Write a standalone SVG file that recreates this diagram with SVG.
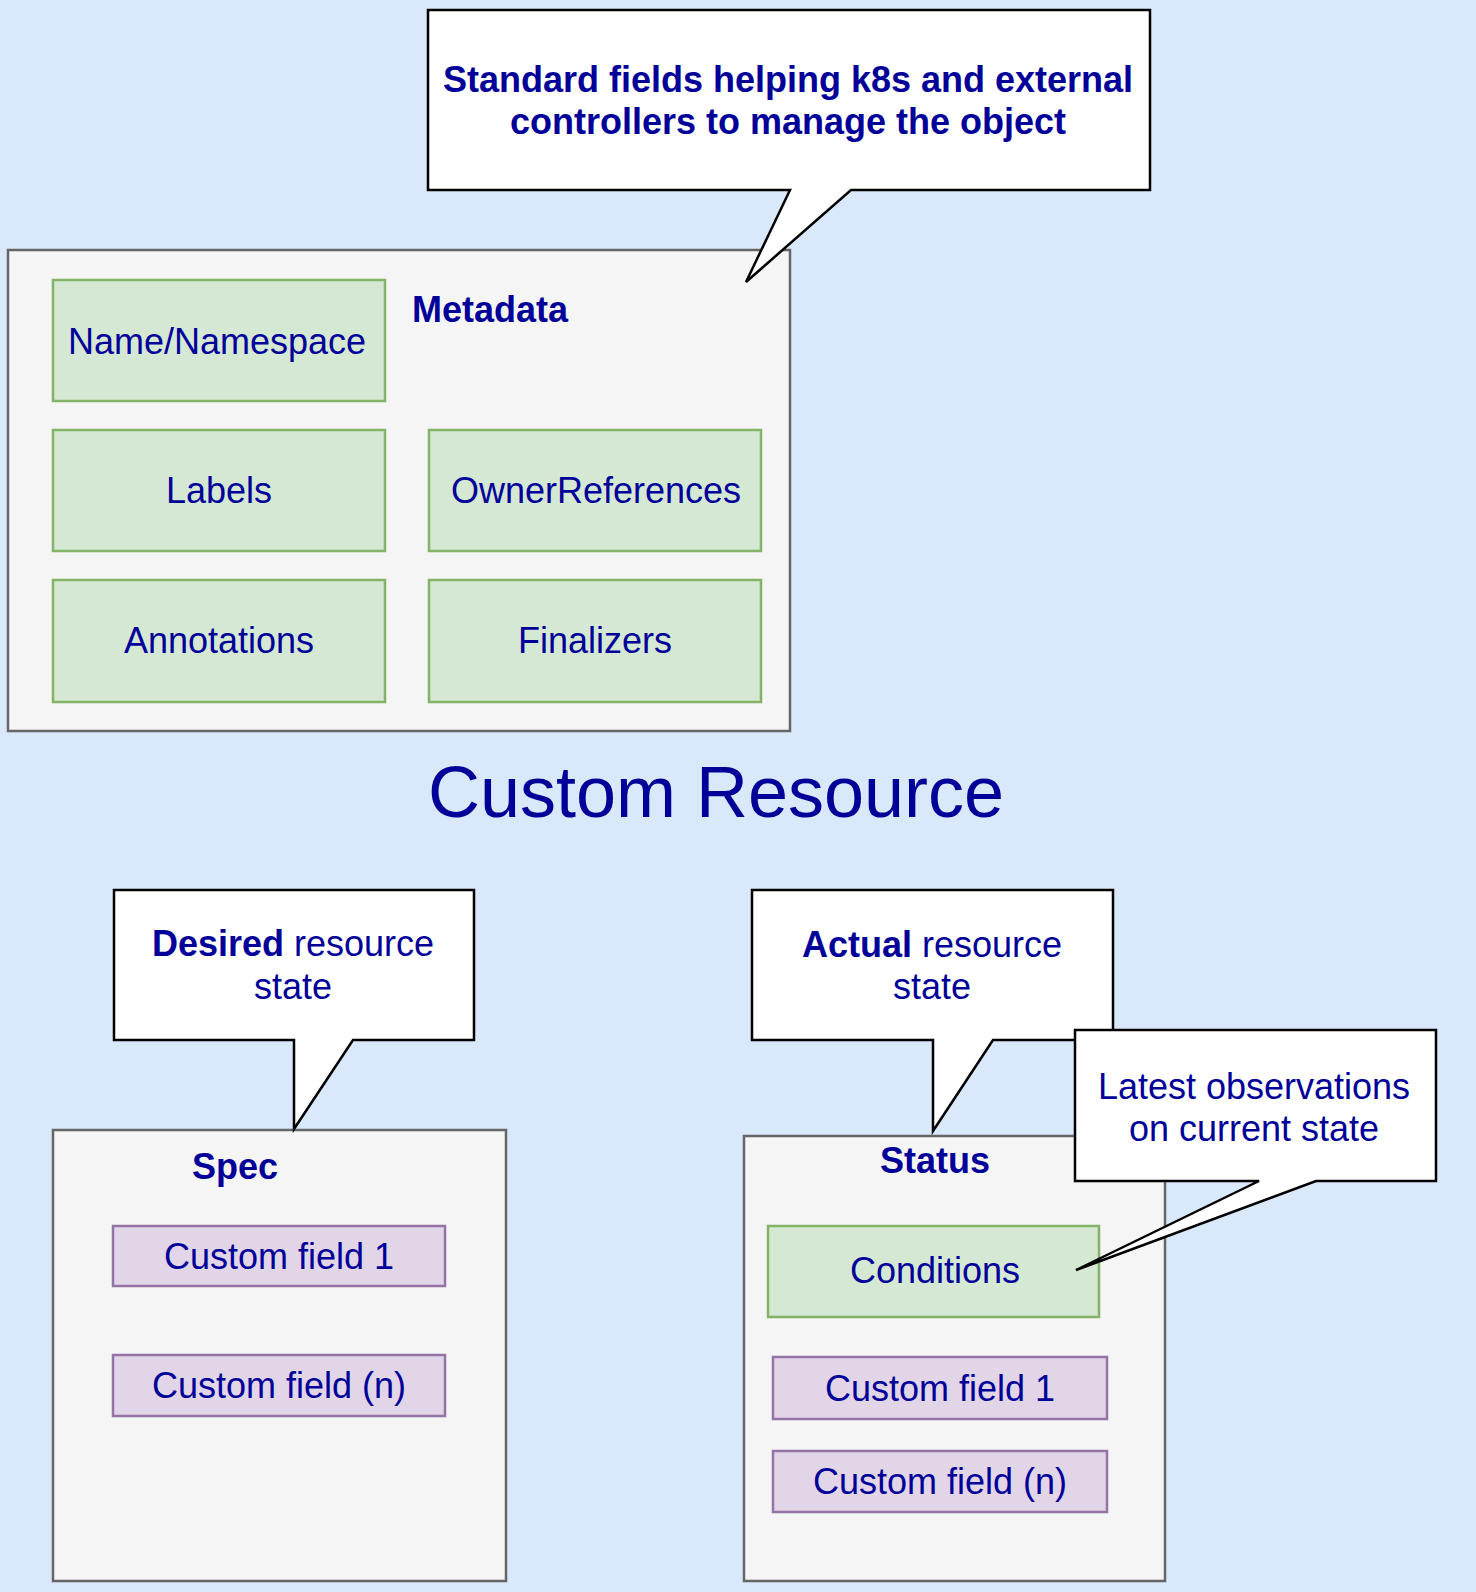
<svg xmlns="http://www.w3.org/2000/svg" width="1476" height="1592" viewBox="0 0 1476 1592">
<style>
text{font-family:"Liberation Sans",Arial,Helvetica,sans-serif;fill:#000099;font-size:36px}
.b{font-weight:bold}
.c{text-anchor:middle}
.cont{fill:#f5f5f5;stroke:#666666;stroke-width:2.5}
.green{fill:#d5e8d4;stroke:#82b366;stroke-width:2.5}
.purple{fill:#e1d5e7;stroke:#9673a6;stroke-width:2.5}
.call{fill:#ffffff;stroke:#000000;stroke-width:2.5;stroke-linejoin:miter}
</style>
<rect x="0" y="0" width="1476" height="1592" fill="#dae8fc"/>

<g id="metadata">
<rect class="cont" x="8" y="250" width="782" height="481"/>
<text class="b" x="412" y="322">Metadata</text>
</g>
<g id="name-namespace">
<rect class="green" x="53" y="280" width="332" height="121"/>
<text class="c" x="217" y="354">Name/Namespace</text>
</g>
<g id="labels">
<rect class="green" x="53" y="430" width="332" height="121"/>
<text class="c" x="219" y="503">Labels</text>
</g>
<g id="owner-references">
<rect class="green" x="429" y="430" width="332" height="121"/>
<text class="c" x="596" y="503">OwnerReferences</text>
</g>
<g id="annotations">
<rect class="green" x="53" y="580" width="332" height="122"/>
<text class="c" x="219" y="653">Annotations</text>
</g>
<g id="finalizers">
<rect class="green" x="429" y="580" width="332" height="122"/>
<text class="c" x="595" y="653">Finalizers</text>
</g>

<g id="callout-standard">
<path class="call" d="M428,10 H1150 V190 H851 L746,282 L790,190 H428 Z"/>
<text class="b c" x="788" y="92">Standard fields helping k8s and external</text>
<text class="b c" x="788" y="134">controllers to manage the object</text>
</g>

<g id="title">
<text class="c" x="716" y="817" style="font-size:72px">Custom Resource</text>
</g>

<g id="spec">
<rect class="cont" x="53" y="1130" width="453" height="451"/>
<text class="b c" x="235" y="1179">Spec</text>
</g>
<g id="spec-field-1">
<rect class="purple" x="113" y="1226" width="332" height="60"/>
<text class="c" x="279" y="1269">Custom field 1</text>
</g>
<g id="spec-field-n">
<rect class="purple" x="113" y="1355" width="332" height="61"/>
<text class="c" x="279" y="1398">Custom field (n)</text>
</g>
<g id="callout-desired">
<path class="call" d="M114,890 H474 V1040 H353 L294,1129 L294,1040 H114 Z"/>
<text class="c" x="293" y="956"><tspan class="b">Desired</tspan> resource</text>
<text class="c" x="293" y="999">state</text>
</g>

<g id="status">
<rect class="cont" x="744" y="1136" width="421" height="445"/>
<text class="b c" x="935" y="1173">Status</text>
</g>
<g id="conditions">
<rect class="green" x="768" y="1226" width="331" height="91"/>
<text class="c" x="935" y="1283">Conditions</text>
</g>
<g id="status-field-1">
<rect class="purple" x="773" y="1357" width="334" height="62"/>
<text class="c" x="940" y="1401">Custom field 1</text>
</g>
<g id="status-field-n">
<rect class="purple" x="773" y="1451" width="334" height="61"/>
<text class="c" x="940" y="1494">Custom field (n)</text>
</g>
<g id="callout-actual">
<path class="call" d="M752,890 H1113 V1040 H993 L933,1131 L933,1040 H752 Z"/>
<text class="c" x="932" y="957"><tspan class="b">Actual</tspan> resource</text>
<text class="c" x="932" y="999">state</text>
</g>
<g id="callout-latest">
<path class="call" d="M1075,1030 H1436 V1181 H1316 L1076,1270 L1259,1181 H1075 Z"/>
<text class="c" x="1254" y="1099">Latest observations</text>
<text class="c" x="1254" y="1141">on current state</text>
</g>

<g id="connectors"></g>
</svg>
